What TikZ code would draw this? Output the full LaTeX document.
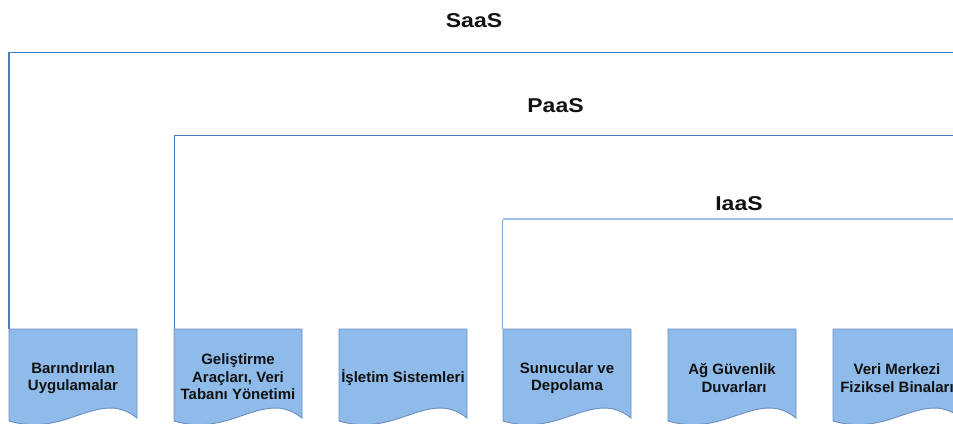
\documentclass[tikz,border=0pt]{standalone}
\usepackage{fontspec}
\setmainfont{Liberation Sans}
\definecolor{frameblue}{HTML}{4A7EBB}
\definecolor{framelight}{HTML}{A3C3E6}
\definecolor{framelightv}{HTML}{7FA8D8}
\definecolor{docfill}{HTML}{8EBBEA}
\definecolor{docline}{HTML}{6C8EBF}
\definecolor{txt}{HTML}{111111}
\begin{document}
\begin{tikzpicture}[x=1pt,y=-1pt,
  titletext/.style={font=\fontsize{20}{24}\selectfont\bfseries\addfontfeature{FakeStretch=1.15}, text=txt, anchor=base, inner sep=0pt},
  boxtext/.style={font=\fontsize{15}{17.5}\selectfont\bfseries, text=txt, align=center, inner sep=0pt},
  docshape/.style={draw=docline, fill=docfill, line width=0.9pt},
  framemain/.style={draw=frameblue, line width=1.6pt},
  framelt/.style={draw=framelight, line width=1.8pt}]
\useasboundingbox (0,0) rectangle (953,423);
\clip (0,0) rectangle (953,423);
% frames
\coordinate (saasL) at (9,329);
\coordinate (saasC) at (9,52.5);
\coordinate (saasR) at (960,52.5);
\coordinate (paasL) at (174.5,329);
\coordinate (paasC) at (174.5,135.5);
\coordinate (paasR) at (960,135.5);
\coordinate (iaasL) at (502.5,329);
\coordinate (iaasC) at (502.5,219);
\coordinate (iaasR) at (960,219);
\draw[framemain] (saasL) -- (saasC) -- (saasR);
\draw[framemain] (paasL) -- (paasC) -- (paasR);
\draw[framelt] (iaasC) -- (iaasR);
\draw[draw=framelightv, line width=1.5pt] (iaasL) -- ([yshift=-0.9pt]iaasC);
% titles
\node[titletext] (saas) at (474,27.5) {SaaS};
\node[titletext] (paas) at (555.5,112) {PaaS};
\node[titletext] (iaas) at (739,210.5) {IaaS};
% document boxes
\foreach \x in {9,174,339,503,668,833}{
  \path[docshape] (\x,329) -- (\x+128,329) -- (\x+128,418)
    .. controls (\x+108,402) and (\x+90,408) .. (\x+64,417)
    .. controls (\x+44,424) and (\x+24,428) .. (\x,421) -- cycle;
}
\node[boxtext] (b1) at (73,378) {Barındırılan\\Uygulamalar};
\node[boxtext] (b2) at (238,377) {Geliştirme\\Araçları, Veri\\Tabanı Yönetimi};
\node[boxtext] (b3) at (403,378) {İşletim Sistemleri};
\node[boxtext] (b4) at (567,378) {Sunucular ve\\Depolama};
\node[boxtext] (b5) at (732,378) {Ağ Güvenlik\\\ Duvarları};
\node[boxtext] (b6) at (897,378) {Veri Merkezi\\Fiziksel Binaları};
\end{tikzpicture}
\end{document}
